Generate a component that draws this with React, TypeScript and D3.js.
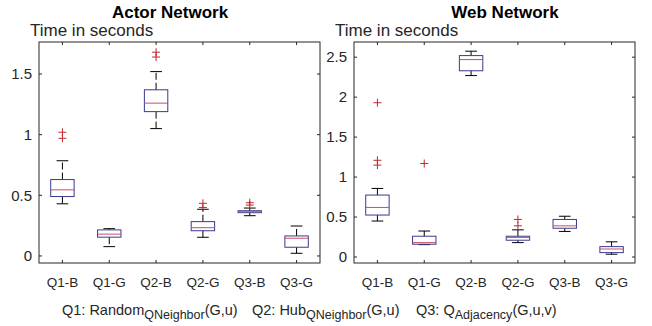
import * as d3 from "d3";

const categories = ["Q1-B", "Q1-G", "Q2-B", "Q2-G", "Q3-B", "Q3-G"];

// Actor network
const actorLow = [0.43, 0.077, 1.05, 0.154, 0.332, 0.022];
const actorQ1 = [0.49, 0.155, 1.19, 0.208, 0.357, 0.072];
const actorMedian = [0.545, 0.18, 1.26, 0.233, 0.365, 0.146];
const actorQ3 = [0.63, 0.215, 1.37, 0.283, 0.373, 0.165];
const actorHigh = [0.785, 0.225, 1.52, 0.385, 0.395, 0.247];
const actorOutliers = [[1.02, 0.97], [], [1.68, 1.64], [0.434, 0.4], [0.439, 0.42], []];
const actorTicks = [0, 0.5, 1, 1.5];

// Web network
const webLow = [0.45, 0.155, 2.27, 0.18, 0.32, 0.035];
const webQ1 = [0.525, 0.16, 2.33, 0.21, 0.36, 0.055];
const webMedian = [0.62, 0.18, 2.47, 0.245, 0.39, 0.1];
const webQ3 = [0.775, 0.26, 2.52, 0.26, 0.47, 0.13];
const webHigh = [0.858, 0.325, 2.575, 0.34, 0.51, 0.19];
const webOutliers = [[1.93, 1.21, 1.15], [1.17], [], [0.47, 0.39], [], []];
const webTicks = [0, 0.5, 1, 1.5, 2, 2.5];

// footnote: [label, subscript, args]
const legendParts = [
  ["Q1: Random", "QNeighbor", "(G,u)"],
  ["Q2: Hub", "QNeighbor", "(G,u)"],
  ["Q3: Q", "Adjacency", "(G,u,v)"],
];
const legendX = [62, 252, 416];

const font = "'Liberation Sans', Arial, Helvetica, sans-serif";
const axisColor = "#262626";
const boxColor = "#3a3a8e";
const medianColor = "#c4506a";
const outlierColor = "#c0282e";

type PanelProps = {
  left: number;
  right: number;
  domain: [number, number];
  ticks: number[];
  low: number[];
  q1: number[];
  median: number[];
  q3: number[];
  high: number[];
  outliers: number[][];
  title: string;
  titleX: number;
  ylabelX: number;
};

const top = 42;
const bottom = 263;

function Panel(p: PanelProps) {
  const x = d3.scaleLinear().domain([0.5, categories.length + 0.5]).range([p.left, p.right]);
  const y = d3.scaleLinear().domain(p.domain).range([bottom, top]);
  const step = x(2) - x(1);
  const bw = step * 0.5;
  const cw = step * 0.25;
  const tl = 3;
  return (
    <g>
      <text x={p.titleX} y={18} textAnchor="middle" fontWeight="bold" fontSize={17} fill="#000" fontFamily={font}>
        {p.title}
      </text>
      <text x={p.ylabelX} y={36} fontSize={17} fill={axisColor} fontFamily={font}>
        Time in seconds
      </text>
      {/* y ticks */}
      {p.ticks.map((t) => (
        <g key={"y" + t}>
          <line x1={p.left} x2={p.left + tl} y1={y(t)} y2={y(t)} stroke={axisColor} />
          <line x1={p.right} x2={p.right - tl} y1={y(t)} y2={y(t)} stroke={axisColor} />
          <text x={p.left - 7} y={y(t)} dy="0.35em" textAnchor="end" fontSize={15} fill={axisColor} fontFamily={font}>
            {d3.format("~g")(t)}
          </text>
        </g>
      ))}
      {/* x ticks */}
      {categories.map((c, i) => (
        <g key={c}>
          <line x1={x(i + 1)} x2={x(i + 1)} y1={bottom} y2={bottom - tl} stroke={axisColor} />
          <line x1={x(i + 1)} x2={x(i + 1)} y1={top} y2={top + tl} stroke={axisColor} />
          <text x={x(i + 1)} y={287} textAnchor="middle" fontSize={13.5} fill={axisColor} fontFamily={font}>
            {c}
          </text>
        </g>
      ))}
      {/* boxes */}
      {categories.map((c, i) => {
        const cx = x(i + 1);
        return (
          <g key={"b" + c}>
            <line x1={cx} x2={cx} y1={y(p.q3[i])} y2={y(p.high[i])} stroke="#000" strokeDasharray="7 3" />
            <line x1={cx} x2={cx} y1={y(p.q1[i])} y2={y(p.low[i])} stroke="#000" strokeDasharray="7 3" />
            <line x1={cx - cw / 2} x2={cx + cw / 2} y1={y(p.high[i])} y2={y(p.high[i])} stroke="#000" />
            <line x1={cx - cw / 2} x2={cx + cw / 2} y1={y(p.low[i])} y2={y(p.low[i])} stroke="#000" />
            <rect
              x={cx - bw / 2}
              y={y(p.q3[i])}
              width={bw}
              height={Math.max(0.5, y(p.q1[i]) - y(p.q3[i]))}
              fill="none"
              stroke={boxColor}
            />
            <line x1={cx - bw / 2} x2={cx + bw / 2} y1={y(p.median[i])} y2={y(p.median[i])} stroke={medianColor} />
            {p.outliers[i].map((o, j) => (
              <path
                key={j}
                d={`M${cx - 4},${y(o)}H${cx + 4}M${cx},${y(o) - 4}V${y(o) + 4}`}
                stroke={outlierColor}
                fill="none"
              />
            ))}
          </g>
        );
      })}
      <rect x={p.left} y={top} width={p.right - p.left} height={bottom - top} fill="none" stroke={axisColor} />
    </g>
  );
}

export default function App() {
  return (
    <svg
      width={652}
      height={326}
      style={{ position: "absolute", left: 0, top: 0, display: "block", background: "#fff" }}
    >
      <rect width={652} height={326} fill="#fff" />
      <Panel
        left={39}
        right={320}
        domain={[-0.058, 1.764]}
        ticks={actorTicks}
        low={actorLow}
        q1={actorQ1}
        median={actorMedian}
        q3={actorQ3}
        high={actorHigh}
        outliers={actorOutliers}
        title="Actor Network"
        titleX={170}
        ylabelX={30}
      />
      <Panel
        left={354}
        right={635}
        domain={[-0.075, 2.69]}
        ticks={webTicks}
        low={webLow}
        q1={webQ1}
        median={webMedian}
        q3={webQ3}
        high={webHigh}
        outliers={webOutliers}
        title="Web Network"
        titleX={505}
        ylabelX={335}
      />
      {legendParts.map((part, i) => (
        <text key={i} x={legendX[i]} y={315} fontSize={14.5} fill={axisColor} fontFamily={font}>
          <tspan>{part[0]}</tspan>
          <tspan fontSize={12.5} dy={4}>{part[1]}</tspan>
          <tspan dy={-4}>{part[2]}</tspan>
        </text>
      ))}
    </svg>
  );
}
